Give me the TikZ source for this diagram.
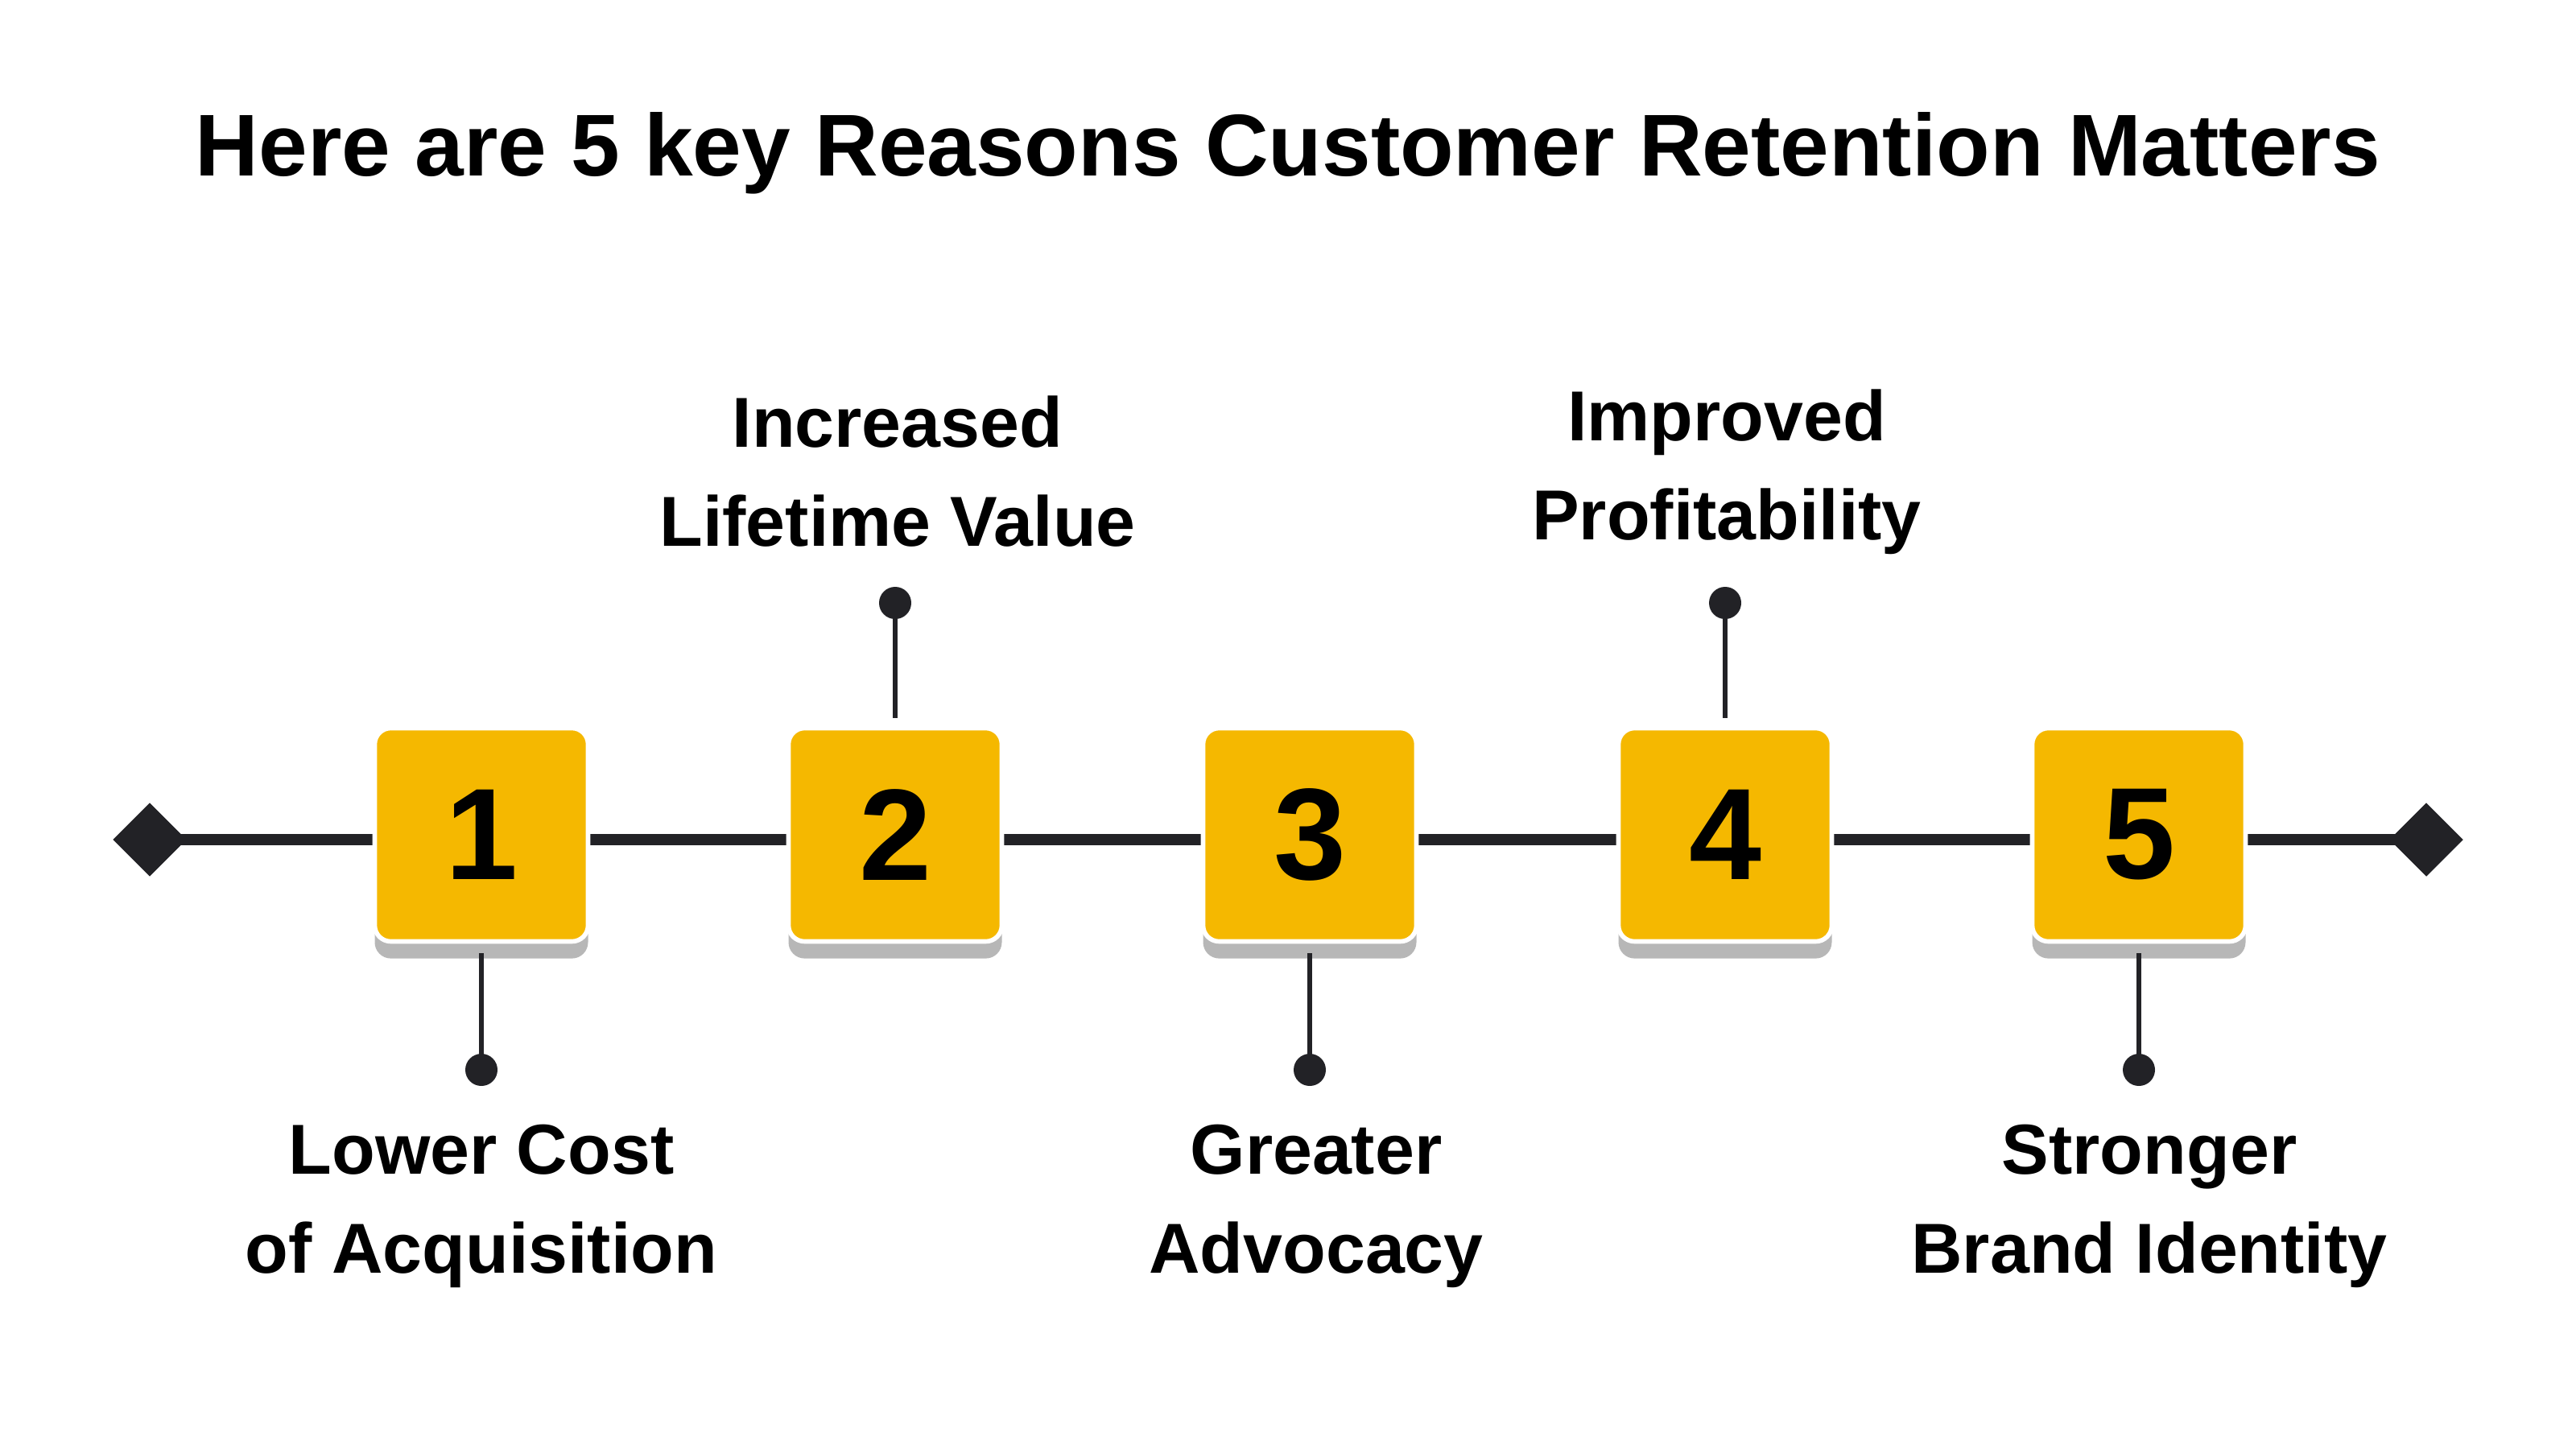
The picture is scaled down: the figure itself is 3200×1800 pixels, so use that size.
\documentclass[tikz,border=0pt]{standalone}
\usepackage{fontspec}
\setmainfont{Liberation Sans}
\usetikzlibrary{shapes.geometric,shadows}
\definecolor{ink}{HTML}{222226}
\definecolor{gold}{HTML}{F5B800}
\begin{document}
\begin{tikzpicture}[x=0.01cm,y=-0.01cm,
  box/.style={draw=white,line width=8\pgflinewidth/1,ultra thick,fill=gold,rounded corners=20*0.01cm,minimum width=265*0.01cm,minimum height=265*0.01cm,font=\fontsize{46}{50}\selectfont\bfseries,text=black,drop shadow={shadow xshift=0pt,shadow yshift=-6pt,fill=black!40,opacity=0.7}},
  lab/.style={font=\fontsize{25}{35}\selectfont\bfseries,align=center,text=black},
  dot/.style={circle,fill=ink,inner sep=0,minimum size=40*0.01cm},
  dia/.style={diamond,fill=ink,inner sep=0,minimum size=92*0.01cm},
  stem/.style={draw=ink,line width=6*0.01cm}]
\useasboundingbox (0,0) rectangle (3200,1800);
\node[font=\fontsize{31}{36}\selectfont\bfseries] (title) at (1600,190) {Here are 5 key Reasons Customer Retention Matters};
\node[dia] (L) at (186,1043) {};
\node[dia] (R) at (3014,1043) {};
\draw[ink,line width=14*0.01cm] (L.center) -- (R.center);
\foreach \i/\x in {1/598,2/1112,3/1627,4/2143,5/2657}{
  \node[box] (b\i) at (\x,1037) {\i};
}
\foreach \i/\x in {2/1112,4/2143}{
  \node[dot] (d\i) at (\x,749) {};
  \coordinate (s\i) at (\x,892);
  \draw[stem] (d\i.center) -- (s\i);
}
\foreach \i/\x in {1/598,3/1627,5/2657}{
  \node[dot] (d\i) at (\x,1329) {};
  \coordinate (s\i) at (\x,1184);
  \draw[stem] (d\i.center) -- (s\i);
}
\node[lab] (t2) at (1115,586) {Increased\\Lifetime Value};
\node[lab] (t4) at (2145,586) {Improved\\Profitability};
\node[lab] (t1) at (598,1498) {Lower Cost\\of Acquisition};
\node[lab] (t3) at (1635,1498) {Greater\\Advocacy};
\node[lab] (t5) at (2670,1498) {Stronger\\Brand Identity};
\end{tikzpicture}
\end{document}
